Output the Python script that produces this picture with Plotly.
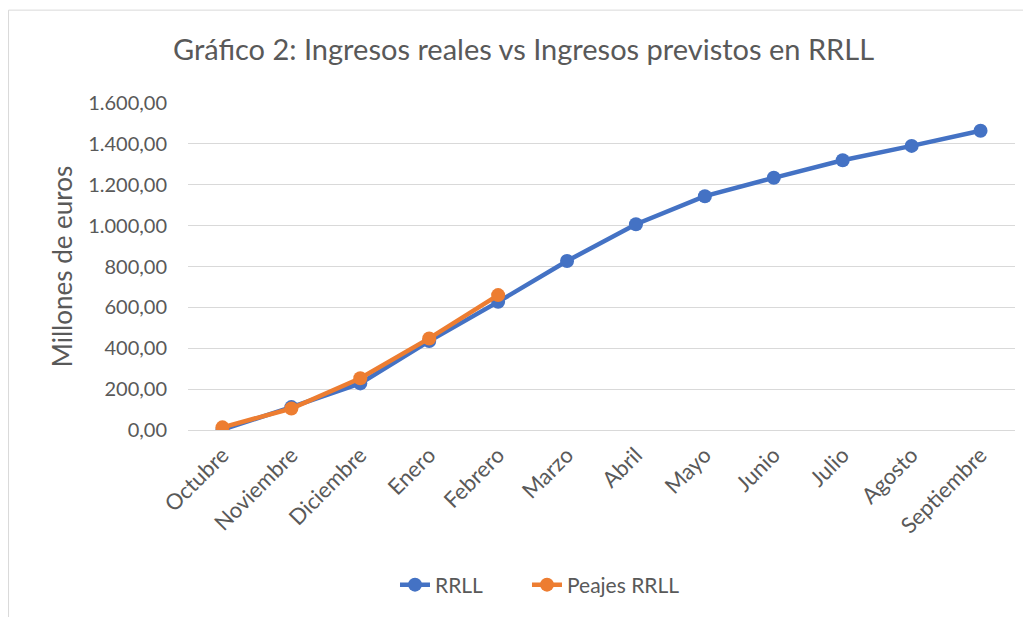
import plotly.graph_objects as go

meses = ["Octubre", "Noviembre", "Diciembre", "Enero", "Febrero", "Marzo",
         "Abril", "Mayo", "Junio", "Julio", "Agosto", "Septiembre"]
rrll = [2, 112, 228, 435, 627, 827, 1007, 1144, 1234, 1320, 1390, 1464]
peajes_meses = ["Octubre", "Noviembre", "Diciembre", "Enero", "Febrero"]
peajes_rrll = [13, 105, 253, 448, 660]
y_ticks = [0, 200, 400, 600, 800, 1000, 1200, 1400, 1600]

FONT = "Lato, 'Open Sans', sans-serif"
GRIS = "#595959"

fig = go.Figure()
fig.add_trace(go.Scatter(x=meses, y=rrll, name="RRLL", mode="lines+markers",
                         line=dict(color="#4472c4", width=4.5),
                         marker=dict(size=14, color="#4472c4"), legend="legend"))
fig.add_trace(go.Scatter(x=peajes_meses, y=peajes_rrll, name="Peajes RRLL",
                         mode="lines+markers",
                         line=dict(color="#ed7d31", width=4.5),
                         marker=dict(size=14, color="#ed7d31"), legend="legend2"))

# la página tiene 8px de margen en el body: se compensa en los márgenes
leyenda = dict(orientation="h", xanchor="left", y=-0.474, yanchor="middle",
               font=dict(size=21, color=GRIS), bgcolor="rgba(0,0,0,0)")
fig.update_layout(
    width=1031, height=617,
    margin=dict(l=180, r=24, t=95, b=195),
    paper_bgcolor="white", plot_bgcolor="white",
    separators=",.",
    font=dict(family=FONT, color=GRIS, size=20),
    title=dict(text="Gráfico 2: Ingresos reales vs Ingresos previstos en RRLL",
               x=0.5, xanchor="center", xref="container", y=0.932, yanchor="middle",
               font=dict(size=29, color=GRIS, family=FONT)),
    showlegend=True,
    legend=dict(leyenda, x=0.2503),
    legend2=dict(leyenda, x=0.4099),
)
fig.update_xaxes(type="category", categoryorder="array", categoryarray=meses,
                 range=[-0.5, 11.5], tickangle=-45, showgrid=False,
                 showline=False, zeroline=False, ticks="", ticklabelstandoff=7,
                 tickfont=dict(size=22, color=GRIS))
fig.update_yaxes(range=[0, 1600], tickvals=y_ticks, tickformat=",.2f",
                 showgrid=True, gridcolor="#d9d9d9", gridwidth=1,
                 zeroline=True, zerolinecolor="#d9d9d9", zerolinewidth=1,
                 showline=False, ticks="", ticklabelstandoff=20,
                 title=dict(text="Millones de euros", font=dict(size=26, color=GRIS),
                            standoff=8),
                 tickfont=dict(size=20, color=GRIS))

# marco del gráfico
fig.add_shape(type="line", xref="paper", yref="paper",
              x0=-0.217, x1=1.1, y0=1.284, y1=1.284,
              line=dict(color="#d9d9d9", width=1))
fig.add_shape(type="line", xref="paper", yref="paper",
              x0=-0.217, x1=-0.217, y0=1.284, y1=-0.6,
              line=dict(color="#d9d9d9", width=1))

fig.write_html("out.html")
